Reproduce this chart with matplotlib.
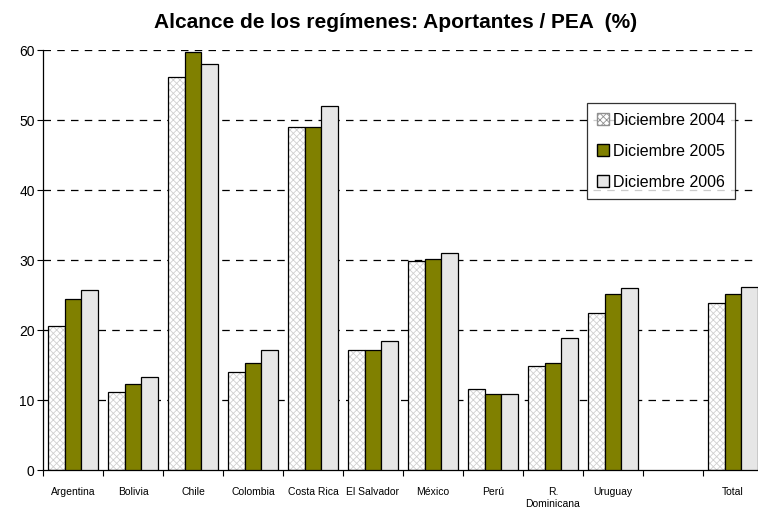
import matplotlib.pyplot as plt
import numpy as np
from matplotlib.patches import Patch

plt.rcParams['font.family'] = ['Liberation Sans', 'DejaVu Sans']

paises = ['Argentina', 'Bolivia', 'Chile', 'Colombia', 'Costa Rica', 'El Salvador',
          'México', 'Perú', 'R.\nDominicana', 'Uruguay', '', 'Total']
dic_2004 = [20.6, 11.1, 56.2, 14.0, 49.0, 17.1, 29.9, 11.6, 14.8, 22.4, np.nan, 23.9]
dic_2005 = [24.5, 12.3, 59.7, 15.3, 49.0, 17.2, 30.2, 10.9, 15.3, 25.2, np.nan, 25.1]
dic_2006 = [25.7, 13.3, 58.0, 17.2, 52.0, 18.4, 31.0, 10.9, 18.9, 26.0, np.nan, 26.1]
series = ['Diciembre 2004', 'Diciembre 2005', 'Diciembre 2006']

fig = plt.figure(figsize=(7.58, 5.08), dpi=100)
ax = fig.add_axes([43 / 758, 38 / 508, 720 / 758, 420 / 508])

x = np.arange(len(paises))
w = 0.275

# 2004: checkered look approximated with a fine hatch
plt.rcParams['hatch.linewidth'] = 0.6
ax.bar(x - w, dic_2004, w, color='white', hatch='xxxxx', edgecolor='#d0d0d0', linewidth=0, zorder=2)
ax.bar(x - w, dic_2004, w, fill=False, edgecolor='black', linewidth=0.9, zorder=3)
ax.bar(x, dic_2005, w, color='#808000', edgecolor='black', linewidth=0.9, zorder=3)
ax.bar(x + w, dic_2006, w, color='#e6e6e6', edgecolor='black', linewidth=0.9, zorder=3)

# legend
h = [Patch(facecolor='white', hatch='xxxxx', edgecolor='#909090'),
     Patch(facecolor='#808000', edgecolor='black'),
     Patch(facecolor='#e6e6e6', edgecolor='black')]
leg = ax.legend(h, series, loc='upper left', bbox_to_anchor=(544 / 720, 1 - 53 / 420),
                fontsize=11.5, frameon=True, fancybox=False, edgecolor='black',
                handlelength=0.8, handleheight=0.8, handletextpad=0.25,
                labelspacing=1.0, borderpad=0.6, borderaxespad=0)
leg.get_frame().set_linewidth(0.9)
leg.set_zorder(5)

ax.set_xlim(-0.5, len(paises) - 0.5)
ax.set_ylim(0, 60)
ax.set_yticks(range(0, 61, 10))
for v in range(10, 61, 10):
    ax.axhline(v, color='black', linestyle=(0, (6, 5)), linewidth=0.9, zorder=1)

ax.set_xticks(x)
ax.set_xticklabels(paises, fontsize=7.5, linespacing=1.3)
ax.set_xticks(np.arange(len(paises) + 1) - 0.5, minor=True)
ax.tick_params(axis='x', which='major', length=0, pad=12)
ax.tick_params(axis='x', which='minor', length=4, width=0.8)
ax.tick_params(axis='y', length=4, width=0.8, labelsize=10, pad=2)

for s in ['top', 'right']:
    ax.spines[s].set_visible(False)
ax.spines['left'].set_linewidth(0.9)
ax.spines['bottom'].set_linewidth(0.9)

fig.text(396 / 758, 1 - 22 / 508, 'Alcance de los regímenes: Aportantes / PEA  (%)',
         ha='center', va='center', fontsize=15, fontweight='bold')

fig.savefig('out.png', dpi=100)
